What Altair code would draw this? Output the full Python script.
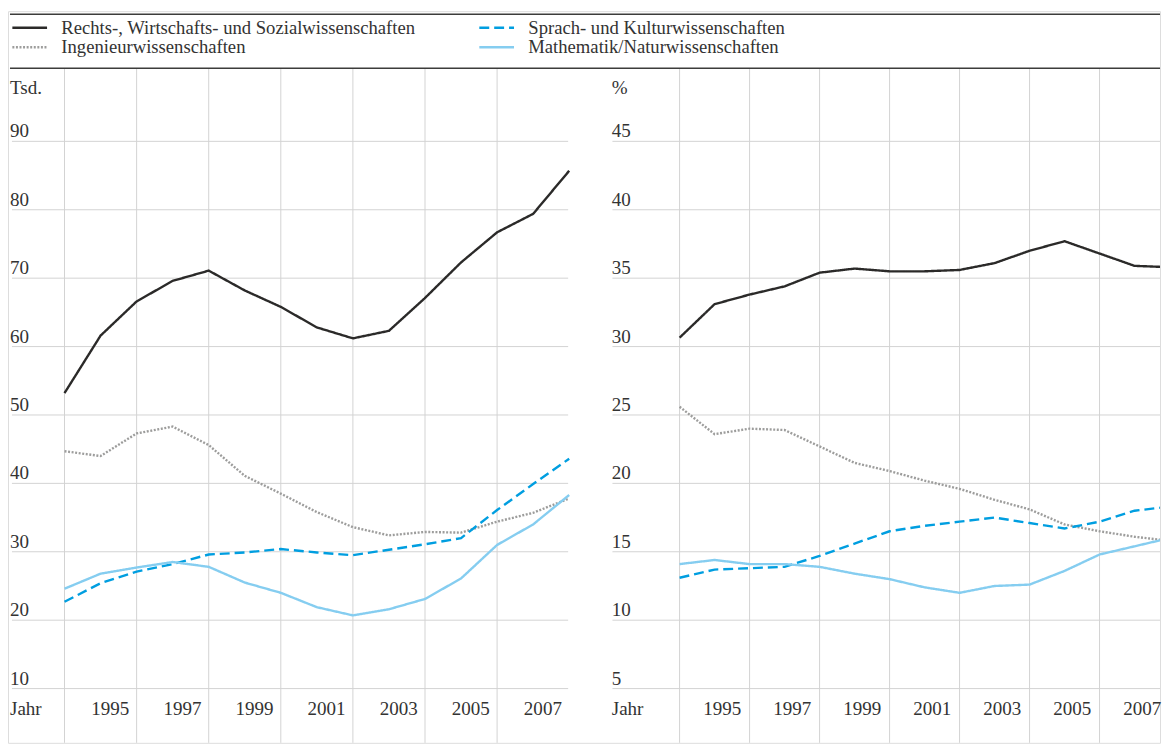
import altair as alt
import pandas as pd

# ---------------- data ----------------
years = list(range(1994, 2009))
# legend order (filled column by column)
series = [
    "Rechts-, Wirtschafts- und Sozialwissenschaften",
    "Ingenieurwissenschaften",
    "Sprach- und Kulturwissenschaften",
    "Mathematik/Naturwissenschaften",
]
# Absolventen in Tausend
rws_tsd = [53.2, 61.6, 66.6, 69.6, 71.1, 68.2, 65.8, 62.8, 61.2, 62.3, 67.1, 72.3, 76.7, 79.4, 85.7]
ing_tsd = [44.7, 44.0, 47.3, 48.3, 45.6, 41.1, 38.5, 35.8, 33.6, 32.4, 32.9, 32.8, 34.4, 35.7, 37.8]
spr_tsd = [22.7, 25.4, 27.1, 28.2, 29.6, 29.9, 30.4, 29.9, 29.5, 30.3, 31.1, 32.0, 36.1, 39.9, 43.6]
mat_tsd = [24.6, 26.8, 27.7, 28.5, 27.8, 25.5, 24.0, 21.9, 20.7, 21.6, 23.1, 26.1, 31.0, 34.0, 38.3]
# Anteile in %
rws_pct = [30.65, 33.1, 33.8, 34.4, 35.4, 35.7, 35.5, 35.5, 35.6, 36.1, 37.0, 37.7, 36.8, 35.9, 35.8]
ing_pct = [25.6, 23.6, 24.0, 23.9, 22.7, 21.5, 20.9, 20.2, 19.6, 18.8, 18.1, 17.0, 16.5, 16.1, 15.8]
spr_pct = [13.1, 13.7, 13.8, 13.9, 14.7, 15.6, 16.5, 16.9, 17.2, 17.5, 17.1, 16.7, 17.2, 18.0, 18.3]
mat_pct = [14.1, 14.4, 14.1, 14.1, 13.9, 13.4, 13.0, 12.4, 12.0, 12.5, 12.6, 13.6, 14.8, 15.4, 16.0]

ticks_tsd = [10, 20, 30, 40, 50, 60, 70, 80, 90]
ticks_pct = [5, 10, 15, 20, 25, 30, 35, 40, 45]
grid_years = [1994, 1996, 1998, 2000, 2002, 2004, 2006]
label_years = [1995, 1997, 1999, 2001, 2003, 2005, 2007]

colors = ["#2b2a29", "#9d9d9c", "#009ee0", "#85cdf0"]
dashes = [[1, 0], [2, 1.6], [10, 5], [1, 0]]


def long_df(cols):
    rows = []
    for name, vals in zip(series, cols):
        for y, v in zip(years, vals):
            rows.append({"Jahr": y, "Wert": v, "Fach": name})
    return pd.DataFrame(rows)


df_tsd = long_df([rws_tsd, ing_tsd, spr_tsd, mat_tsd])
df_pct = long_df([rws_pct, ing_pct, spr_pct, mat_pct])

FONT = "Liberation Serif"
TXT = "#333333"
GRID = "#d2d2d2"
W, H = 1162, 738

# long flat stroke symbol (35 px) without inflating the legend row height
leg = alt.Legend(
    title=None, orient="none", legendX=12.5, legendY=7, columns=2,
    symbolType="M-3.5,0H3.5", symbolSize=100, symbolStrokeWidth=2.5,
    labelFont=FONT, labelFontSize=18.8, labelColor=TXT, labelLimit=700,
    labelOffset=22.5, columnPadding=58, rowPadding=0, padding=0,
)


def panel(df, ticks, unit, xdom, ydom, gx0, gx1, lab_x, dx_lab):
    xs = alt.Scale(domain=xdom, nice=False, zero=False)
    ys = alt.Scale(domain=ydom, nice=False, zero=False)
    tdf = pd.DataFrame({"v": ticks})
    txt = dict(font=FONT, fontSize=19.2, color=TXT, baseline="alphabetic")

    hgrid = alt.Chart(tdf).mark_rule(color=GRID, strokeWidth=1).encode(
        y=alt.Y("v:Q", scale=ys, axis=None),
        x=alt.value(gx0),
        x2=alt.value(gx1),
    )
    vgrid = alt.Chart(pd.DataFrame({"g": grid_years})).mark_rule(
        color=GRID, strokeWidth=1
    ).encode(
        x=alt.X("g:Q", scale=xs, axis=None),
        y=alt.value(58),
        y2=alt.value(H),
    )
    ylab = alt.Chart(tdf).mark_text(align="left", dy=-4, **txt).encode(
        x=alt.value(lab_x),
        y=alt.Y("v:Q", scale=ys, axis=None),
        text=alt.Text("v:Q"),
    )
    ulab = alt.Chart(pd.DataFrame({"t": [unit]})).mark_text(align="left", **txt).encode(
        x=alt.value(lab_x), y=alt.value(84), text="t:N"
    )
    jlab = alt.Chart(pd.DataFrame({"t": ["Jahr"]})).mark_text(align="left", **txt).encode(
        x=alt.value(lab_x), y=alt.value(710), text="t:N"
    )
    xlab = alt.Chart(
        pd.DataFrame({"yr": label_years, "lab": [str(y) for y in label_years]})
    ).mark_text(align="right", dx=dx_lab, **txt).encode(
        x=alt.X("yr:Q", scale=xs, axis=None),
        y=alt.value(710),
        text="lab:N",
    )
    lines = alt.Chart(df).mark_line(strokeWidth=2.4, clip=True).encode(
        x=alt.X("Jahr:Q", scale=xs, axis=None),
        y=alt.Y("Wert:Q", scale=ys, axis=None),
        color=alt.Color("Fach:N", scale=alt.Scale(domain=series, range=colors), legend=leg),
        strokeDash=alt.StrokeDash("Fach:N", scale=alt.Scale(domain=series, range=dashes), legend=leg),
    )
    return [hgrid, vgrid, ylab, ulab, jlab, xlab, lines]


left = panel(df_tsd, ticks_tsd, "Tsd.", [1992.432, 2024.39], [2.07, 109.03], 4, 565, 2, 29)
right = panel(df_pct, ticks_pct, "%", [1974.81, 2007.728], [1.035, 54.515], 609.7, W, 609, 27)

rule_df = pd.DataFrame({"k": [0]})
top_rule = alt.Chart(rule_df).mark_rule(color="#3c3c3b", strokeWidth=1.5).encode(
    x=alt.value(2), x2=alt.value(W), y=alt.value(3)
)
bot_rule = alt.Chart(rule_df).mark_rule(color="#3c3c3b", strokeWidth=1.5).encode(
    x=alt.value(2), x2=alt.value(W), y=alt.value(57.5)
)

chart = (
    alt.layer(*left, *right, top_rule, bot_rule)
    .resolve_scale(x="independent", y="independent")
    .properties(width=W, height=H, padding=0)
    .configure_view(stroke=None)
    .configure(font=FONT)
)

chart.save("out.html", embed_options={"renderer": "svg", "actions": False})
